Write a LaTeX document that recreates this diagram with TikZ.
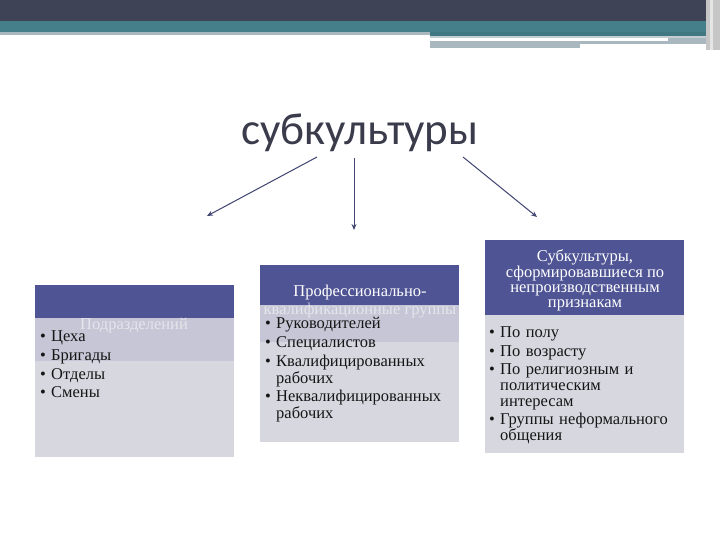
\documentclass[tikz,border=0pt]{standalone}
\usepackage{fontspec}
\setmainfont{Liberation Serif}
\newfontfamily\titlefont{Carlito}
\usetikzlibrary{arrows.meta}
\definecolor{slatec}{HTML}{3E4456}
\definecolor{tealc}{HTML}{45808A}
\definecolor{tealdk}{HTML}{3F7880}
\definecolor{lgray}{HTML}{A9B8BE}
\definecolor{hdrc}{HTML}{4F5494}
\definecolor{bodyc}{HTML}{D7D7E0}
\definecolor{bandc}{HTML}{C6C6D6}
\definecolor{arrc}{HTML}{3F4470}
\definecolor{titlec}{HTML}{3A3B4B}
\definecolor{txtc}{HTML}{151515}
\newcommand{\bitem}[1]{\par\hangindent=11pt\hangafter=1\noindent\makebox[11pt][l]{•}#1}
\tikzset{
  hdrtext/.style={inner sep=0, text=white, font=\fontsize{16.5}{15}\selectfont, align=center},
  fadetext/.style={inner sep=0, text=white, opacity=0.55, font=\fontsize{16.5}{15}\selectfont},
  listtext/.style={inner sep=0, anchor=north west, text=txtc, align=left,
     font=\fontsize{16.5}{17}\selectfont\setlength{\parskip}{1.6pt}\raggedright},
  arr/.style={draw=arrc, line width=1pt, -{Stealth[length=6pt,width=5pt]}}
}
\begin{document}
\begin{tikzpicture}[x=1pt,y=-1pt]
\useasboundingbox (0,0) rectangle (720,540);
% top band
\fill[white] (0,0) rectangle (720,540);
\fill[slatec] (0,0) rectangle (706,21);
\fill[tealc] (0,21) rectangle (706,32);
\fill[lgray] (0,32) rectangle (430,35);
\fill[tealdk] (430,32) rectangle (706,36);
\fill[lgray!70] (430,36) rectangle (706,38);
\fill[lgray] (668,38) rectangle (706,41);
\fill[lgray] (430,41) rectangle (706,44);
\fill[lgray] (430,44) rectangle (580,48);
\fill[gray!45] (706,0) rectangle (720,50);
\fill[white!80!gray] (710,0) rectangle (713,50);
% title
\node[inner sep=0, text=titlec, font=\titlefont\fontsize{45}{45}\selectfont] (title) at (360,133) {субкультуры};
\coordinate (s1) at (317,157);
\coordinate (e1) at (207,216);
\coordinate (s2) at (354,158);
\coordinate (e2) at (354,230);
\coordinate (s3) at (463,157);
\coordinate (e3) at (537,217);
\draw[arr] (s1) -- (e1);
\draw[arr] (s2) -- (e2);
\draw[arr] (s3) -- (e3);
% box 1
\fill[hdrc] (35,285) rectangle (234,318);
\fill[bodyc] (35,318) rectangle (234,457);
\fill[bandc] (35,318) rectangle (234,361);
\node[fadetext] (h1) at (134,326) {Подразделений};
\node[listtext, text width=190] (l1) at (40,323) {\bitem{Цеха}\bitem{Бригады}\bitem{Отделы}\bitem{Смены}\par};
% box 2
\fill[hdrc] (260,265) rectangle (459,305);
\fill[bodyc] (260,305) rectangle (459,442);
\fill[bandc] (260,305) rectangle (459,342);
\node[hdrtext] (h2a) at (360,293) {Профессионально-};
\node[fadetext] (h2b) at (360,311) {квалификационные группы};
\node[listtext, text width=190] (l2) at (265,310) {\bitem{Руководителей}\bitem{Специалистов}\bitem{Квалифицированных\newline рабочих}\bitem{Неквалифицированных\newline рабочих}\par};
% box 3
\fill[hdrc] (485,240) rectangle (684,315);
\fill[bodyc] (485,315) rectangle (684,453);
\node[hdrtext] (h3) at (585,280) {Субкультуры,\\сформировавшиеся по\\непроизводственным\\признакам};
\node[listtext, text width=192, font=\fontsize{16.5}{16}\selectfont\setlength{\parskip}{2.4pt}\raggedright] (l3) at (489,319) {\bitem{По полу}\bitem{По возрасту}\bitem{По религиозным и\newline политическим\newline интересам}\bitem{Группы неформального\newline общения}\par};
\end{tikzpicture}
\end{document}
